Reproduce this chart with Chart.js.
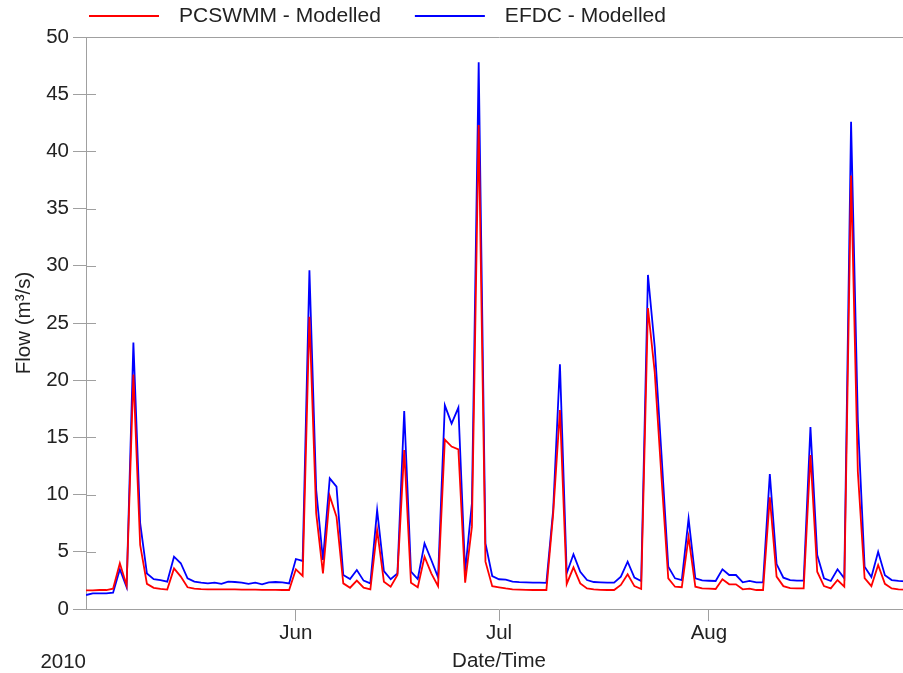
<!DOCTYPE html>
<html lang="en">
<head>
<meta charset="UTF-8">
<title>Flow - PCSWMM vs EFDC</title>
<script src="https://cdn.jsdelivr.net/npm/chart.js"></script>
<style>
  html, body { margin: 0; padding: 0; background: #fff; overflow: hidden; }
  #wrap { width: 903px; height: 673px; overflow: hidden; }
</style>
</head>
<body>
<div id="wrap"><canvas id="flowChart" width="913" height="673"></canvas></div>
<script>
// daily flows (m3/s), day 0 = 1 May 2010 ... day 122 = 31 Aug 2010
var pcswmm = [
  1.63, 1.63, 1.66, 1.66, 1.78, 4.0, 2.05, 20.5, 5.6, 2.2,
  1.85, 1.75, 1.7, 3.55, 2.83, 1.9, 1.78, 1.74, 1.72, 1.72,
  1.72, 1.72, 1.72, 1.7, 1.7, 1.7, 1.68, 1.68, 1.68, 1.66,
  1.66, 3.47, 2.9, 25.55, 8.36, 3.12, 9.88, 8.07, 2.24, 1.86,
  2.48, 1.86, 1.72, 6.9, 2.39, 1.95, 2.97, 13.9, 2.3, 1.9,
  4.57, 3.12, 2.0, 14.8, 14.2, 13.96, 2.3, 7.2, 42.3, 4.14,
  2.0, 1.9, 1.8, 1.72, 1.7, 1.68, 1.66, 1.66, 1.66, 8.3,
  17.4, 2.19, 3.64, 2.24, 1.8, 1.72, 1.68, 1.66, 1.66, 2.1,
  3.03, 2.0, 1.75, 26.3, 20.7, 11.5, 2.68, 1.95, 1.9, 6.3,
  1.95, 1.8, 1.78, 1.75, 2.6, 2.16, 2.16, 1.72, 1.78, 1.66,
  1.66, 9.76, 2.83, 2.0, 1.83, 1.8, 1.8, 13.46, 3.26, 2.0,
  1.8, 2.53, 1.95, 37.9, 12.0, 2.7, 2.0, 3.85, 2.2, 1.8,
  1.72, 1.7, 1.68
];
var efdc = [
  1.22, 1.37, 1.37, 1.37, 1.43, 3.47, 1.9, 23.3, 7.5, 3.1,
  2.6, 2.53, 2.39, 4.57, 4.0, 2.68, 2.39, 2.3, 2.24, 2.3,
  2.19, 2.39, 2.36, 2.3, 2.19, 2.3, 2.16, 2.33, 2.36, 2.33,
  2.24, 4.37, 4.2, 29.6, 10.4, 4.28, 11.42, 10.7, 2.97, 2.62,
  3.41, 2.48, 2.24, 8.65, 3.32, 2.6, 3.12, 17.3, 3.26, 2.62,
  5.74, 4.28, 2.77, 17.8, 16.2, 17.6, 3.26, 9.24, 47.8, 5.74,
  2.88, 2.6, 2.57, 2.39, 2.35, 2.33, 2.3, 2.3, 2.28, 8.65,
  21.4, 3.12, 4.78, 3.26, 2.53, 2.36, 2.33, 2.3, 2.3, 2.83,
  4.14, 2.74, 2.45, 29.2, 22.9, 13.5, 3.7, 2.68, 2.53, 7.9,
  2.68, 2.5, 2.47, 2.45, 3.47, 2.97, 2.97, 2.33, 2.45, 2.33,
  2.33, 11.8, 3.93, 2.74, 2.53, 2.48, 2.48, 15.9, 4.72, 2.68,
  2.45, 3.47, 2.68, 42.6, 16.5, 3.7, 2.8, 5.0, 2.95, 2.53,
  2.45, 2.42, 2.4
];
var seriesNames = ['PCSWMM - Modelled', 'EFDC - Modelled'];
var monthTicks = [31, 61, 92];          // 1 Jun, 1 Jul, 1 Aug
var monthLabels = ['Jun', 'Jul', 'Aug'];
var yearLabel = '2010';

var FONT = '"Liberation Sans", Arial, sans-serif';
var AXIS_GREY = '#a0a0a0';
var TEXT = '#222';

function points(values) {
  return values.map(function (v, day) { return { x: day, y: v }; });
}

// short inner tick marks, the year label and the legend row
var extras = {
  id: 'extras',
  afterDraw: function (chart) {
    var ctx = chart.ctx, area = chart.chartArea, yScale = chart.scales.y;
    ctx.save();
    ctx.strokeStyle = AXIS_GREY;
    ctx.lineWidth = 1;
    yScale.ticks.forEach(function (t) {
      var py = Math.round(yScale.getPixelForValue(t.value)) + 0.5;
      ctx.beginPath();
      ctx.moveTo(area.left, py);
      ctx.lineTo(area.left + 10, py);
      ctx.stroke();
    });

    ctx.font = '20.5px ' + FONT;
    ctx.fillStyle = TEXT;
    ctx.textBaseline = 'middle';
    ctx.textAlign = 'right';
    ctx.fillText(yearLabel, area.left, 662);

    ctx.font = '21px ' + FONT;
    ctx.textAlign = 'left';
    var x = 89, ly = 16;
    chart.data.datasets.forEach(function (ds) {
      ctx.strokeStyle = ds.borderColor;
      ctx.lineWidth = 2;
      ctx.beginPath();
      ctx.moveTo(x, ly);
      ctx.lineTo(x + 70, ly);
      ctx.stroke();
      ctx.fillText(ds.label, x + 90, ly);
      x += 90 + ctx.measureText(ds.label).width + 34;
    });
    ctx.restore();
  }
};

new Chart(document.getElementById('flowChart'), {
  type: 'line',
  data: {
    datasets: [{
      label: seriesNames[0],
      data: points(pcswmm),
      borderColor: '#ff0000',
      backgroundColor: '#ff0000',
      borderWidth: 1.8,
      pointRadius: 0,
      tension: 0
    }, {
      label: seriesNames[1],
      data: points(efdc),
      borderColor: '#0000ff',
      backgroundColor: '#0000ff',
      borderWidth: 1.8,
      pointRadius: 0,
      tension: 0
    }]
  },
  options: {
    responsive: false,
    animation: false,
    layout: { padding: { top: 37, right: 1, left: 0, bottom: 0 } },
    plugins: {
      legend: { display: false },
      tooltip: { enabled: false }
    },
    scales: {
      x: {
        type: 'linear',
        min: 0,
        max: 122,
        afterBuildTicks: function (s) {
          s.ticks = monthTicks.map(function (v) { return { value: v }; });
        },
        afterFit: function (s) { s.height = 64; },
        ticks: {
          autoSkip: false,
          maxRotation: 0,
          padding: 0,
          color: TEXT,
          font: { family: FONT, size: 20.5 },
          callback: function (v) { return monthLabels[monthTicks.indexOf(v)]; }
        },
        grid: { drawOnChartArea: false, tickLength: 12, tickColor: AXIS_GREY },
        border: { color: AXIS_GREY },
        title: {
          display: true,
          text: 'Date/Time',
          color: TEXT,
          font: { family: FONT, size: 20.5 },
          padding: { top: 0, bottom: -1 }
        }
      },
      y: {
        min: 0,
        max: 50,
        afterFit: function (s) { s.width = 86; },
        ticks: {
          stepSize: 5,
          padding: 4,
          color: TEXT,
          font: { family: FONT, size: 20.5 }
        },
        grid: {
          color: function (c) { return c.tick && c.tick.value === 50 ? AXIS_GREY : 'rgba(0,0,0,0)'; },
          tickColor: AXIS_GREY,
          tickLength: 13
        },
        border: { color: AXIS_GREY },
        title: {
          display: true,
          text: 'Flow (m³/s)',
          color: TEXT,
          font: { family: FONT, size: 20.5 },
          padding: { top: 12, bottom: 0 }
        }
      }
    }
  },
  plugins: [extras]
});
</script>
</body>
</html>
